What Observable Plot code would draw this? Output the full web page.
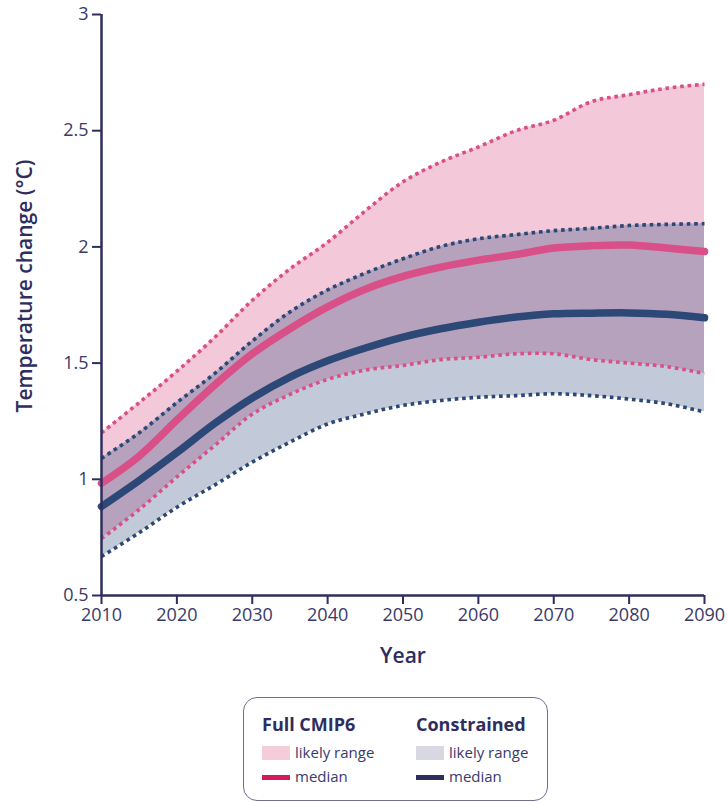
<!DOCTYPE html>
<html>
<head>
<meta charset="utf-8">
<script src="https://cdn.jsdelivr.net/npm/d3@7"></script>
<script src="https://cdn.jsdelivr.net/npm/@observablehq/plot@0.6"></script>
<style>
  html, body { margin: 0; padding: 0; background: #fff; }
  body { width: 727px; height: 803px; overflow: hidden; font-family: "Open Sans", sans-serif; color: #2e2d5e; }
  #legend { position: relative; margin-left: 243px; margin-top: 7px; width: 305px; height: 104px;
            border: 1.5px solid #6f6e93; border-radius: 14px; box-sizing: border-box; }
  .lg-title { position: absolute; top: 17px; font-size: 18px; font-weight: 700; color: #2e2d5e; line-height: 1; }
  .lg-sw { position: absolute; width: 28px; }
  .lg-txt { position: absolute; font-size: 15px; color: #3b3a6b; line-height: 1; }
</style>
</head>
<body>
<div id="chart"></div>
<div id="legend"></div>
<script>
// ---- data ----
const years      = [2010, 2015, 2020, 2025, 2030, 2035, 2040, 2045, 2050, 2055, 2060, 2065, 2070, 2075, 2080, 2085, 2090];
const fullHigh   = [1.20, 1.33, 1.465, 1.61, 1.77, 1.905, 2.02, 2.155, 2.28, 2.365, 2.43, 2.50, 2.545, 2.625, 2.655, 2.683, 2.70];
const fullMedian = [0.983, 1.10, 1.255, 1.405, 1.54, 1.648, 1.742, 1.818, 1.873, 1.913, 1.943, 1.967, 1.995, 2.005, 2.008, 1.995, 1.98];
const fullLow    = [0.745, 0.87, 1.01, 1.145, 1.28, 1.365, 1.43, 1.47, 1.49, 1.515, 1.525, 1.54, 1.54, 1.515, 1.50, 1.485, 1.455];
const conHigh    = [1.09, 1.20, 1.33, 1.455, 1.595, 1.72, 1.815, 1.887, 1.949, 2.002, 2.035, 2.053, 2.07, 2.08, 2.092, 2.097, 2.10];
const conMedian  = [0.883, 0.995, 1.115, 1.24, 1.35, 1.44, 1.51, 1.565, 1.612, 1.648, 1.676, 1.698, 1.712, 1.715, 1.716, 1.71, 1.695];
const conLow     = [0.668, 0.77, 0.88, 0.975, 1.074, 1.16, 1.238, 1.282, 1.318, 1.339, 1.353, 1.36, 1.368, 1.36, 1.345, 1.325, 1.29];
const xTicks = [2010, 2020, 2030, 2040, 2050, 2060, 2070, 2080, 2090];
const yTicks = [0.5, 1, 1.5, 2, 2.5, 3];
const xLabel = "Year";
const yLabel = "Temperature change (°C)";
const legendGroups = ["Full CMIP6", "Constrained"];
const legendItems = ["likely range", "median"];

// ---- styles ----
const navy = "#2e2d5e";
const pinkFill = "#f3c9d9", blueFill = "#c2c9d8", overlapFill = "#b7a2bd";
const pinkLine = "#d94f87", navyLine = "#2c4877";
const curve = "catmull-rom";

const rows = years.map((year, i) => ({
  year,
  fullHigh: fullHigh[i], fullMedian: fullMedian[i], fullLow: fullLow[i],
  conHigh: conHigh[i], conMedian: conMedian[i], conLow: conLow[i]
}));

const dotted = (key, color) => Plot.lineY(rows, {
  x: "year", y: key, stroke: color, strokeWidth: 3.6,
  strokeDasharray: "3.6,3.8", strokeLinecap: "butt", curve
});

const chart = Plot.plot({
  width: 727, height: 690,
  marginLeft: 101, marginRight: 23, marginTop: 14, marginBottom: 95,
  style: { fontFamily: "'Open Sans', sans-serif", fontSize: "18px", color: navy, background: "#fff", overflow: "visible" },
  x: { domain: [2010, 2090] },
  y: { domain: [0.5, 3] },
  marks: [
    Plot.areaY(rows, { x: "year", y1: "fullLow", y2: "fullHigh", fill: pinkFill, curve }),
    Plot.areaY(rows, { x: "year", y1: "conLow", y2: "conHigh", fill: blueFill, curve }),
    Plot.areaY(rows, { x: "year",
      y1: d => Math.max(d.fullLow, d.conLow), y2: d => Math.min(d.fullHigh, d.conHigh),
      fill: overlapFill, curve }),
    dotted("conLow", navyLine),
    dotted("fullLow", pinkLine),
    dotted("conHigh", navyLine),
    dotted("fullHigh", pinkLine),
    Plot.lineY(rows, { x: "year", y: "conMedian", stroke: navyLine, strokeWidth: 7.5, curve }),
    Plot.lineY(rows, { x: "year", y: "fullMedian", stroke: pinkLine, strokeWidth: 7.5, curve }),
    Plot.axisX({ ticks: xTicks, tickFormat: d => String(d), tickSize: 9, tickPadding: 4,
      stroke: navy, strokeWidth: 2, label: null, fontSize: 18, fill: "#3a3968" }),
    Plot.axisY({ ticks: yTicks, tickFormat: d => String(d), tickSize: 9, tickPadding: 4,
      stroke: navy, strokeWidth: 2, label: null, fontSize: 18, fill: "#3a3968" }),
    Plot.ruleX([2010], { stroke: navy, strokeWidth: 2.5 }),
    Plot.ruleY([0.5], { stroke: navy, strokeWidth: 2.5 }),
    Plot.text([xLabel], { frameAnchor: "bottom", dy: 67, fontSize: 21, fontWeight: 600, fill: navy }),
    Plot.text([yLabel], { frameAnchor: "left", textAnchor: "middle", rotate: -90, dx: -76, dy: -19,
      fontSize: 21, fontWeight: 600, fill: navy })
  ]
});
document.getElementById("chart").appendChild(chart);

// ---- legend ----
const lg = document.getElementById("legend");
const groups = [
  { left: 18, range: "#f5ccd9", median: "#d6185c" },
  { left: 172, range: "#d8d8e2", median: "#2e2d60" }
];
groups.forEach((g, gi) => {
  const t = document.createElement("div");
  t.className = "lg-title"; t.style.left = g.left + "px"; t.textContent = legendGroups[gi];
  lg.appendChild(t);
  const sw = document.createElement("div");
  sw.className = "lg-sw"; sw.style.left = g.left + "px"; sw.style.top = "48px"; sw.style.height = "14px";
  sw.style.background = g.range; lg.appendChild(sw);
  const t1 = document.createElement("div");
  t1.className = "lg-txt"; t1.style.left = (g.left + 33) + "px"; t1.style.top = "47px"; t1.textContent = legendItems[0];
  lg.appendChild(t1);
  const ln = document.createElement("div");
  ln.className = "lg-sw"; ln.style.left = g.left + "px"; ln.style.top = "77px"; ln.style.height = "5px";
  ln.style.background = g.median; lg.appendChild(ln);
  const t2 = document.createElement("div");
  t2.className = "lg-txt"; t2.style.left = (g.left + 33) + "px"; t2.style.top = "71px"; t2.textContent = legendItems[1];
  lg.appendChild(t2);
});
</script>
</body>
</html>
